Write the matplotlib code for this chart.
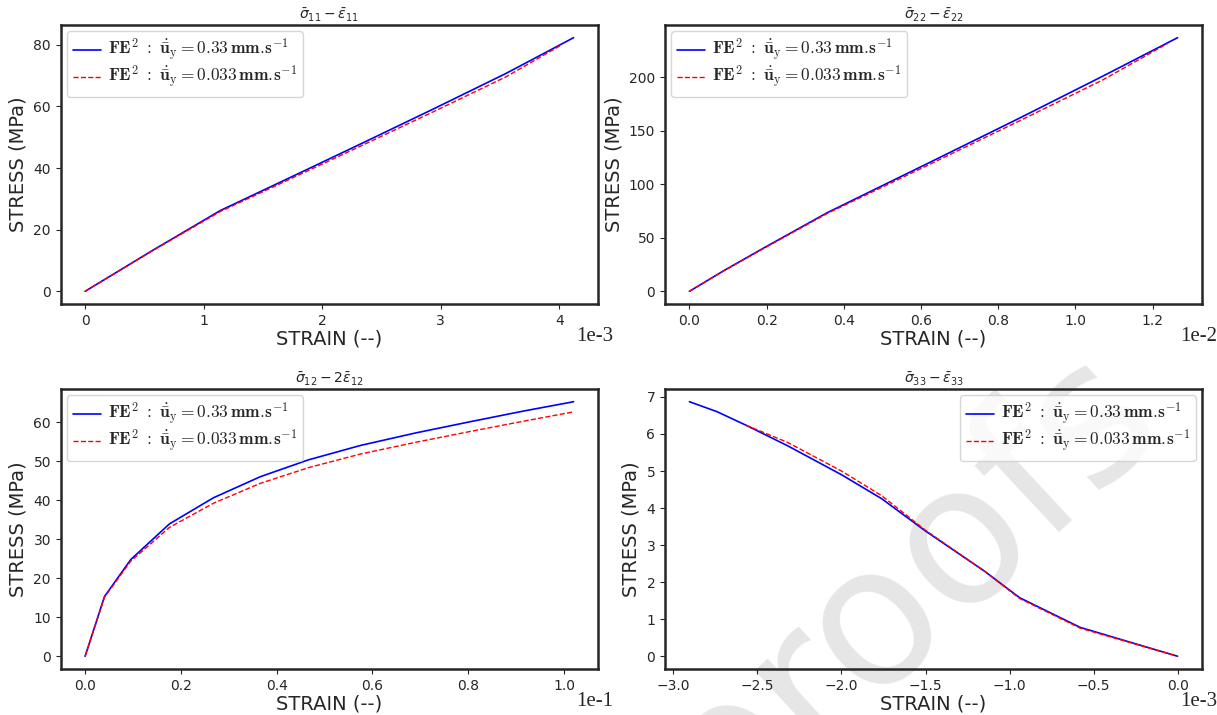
import numpy as np
import matplotlib
matplotlib.use("Agg")
import matplotlib.pyplot as plt
import seaborn as sns
from matplotlib.ticker import ScalarFormatter
from matplotlib.font_manager import FontProperties
from matplotlib.transforms import ScaledTranslation

sns.set_style("ticks")
plt.rcParams['font.family'] = ['DejaVu Sans']

# ---------------- data ----------------
# sigma11 - eps11 (strain in 1e-3)
s11_x_fast = [0.0, 0.57, 1.14, 1.75, 2.35, 2.95, 3.55, 4.12]
s11_y_fast = [0.0, 13.3, 26.2, 37.3, 48.3, 59.4, 70.7, 82.3]
s11_x_slow = [0.0, 0.57, 1.14, 1.75, 2.35, 2.95, 3.55, 4.02]
s11_y_slow = [0.0, 13.2, 25.9, 36.8, 47.6, 58.5, 69.6, 80.0]

# sigma22 - eps22 (strain in 1e-2)
s22_x_fast = [0.0, 0.09, 0.19, 0.357, 0.6, 0.85, 1.07, 1.265]
s22_y_fast = [0.0, 19.5, 40.0, 73.5, 116.5, 161.0, 201.0, 237.2]
s22_x_slow = [0.0, 0.09, 0.19, 0.357, 0.6, 0.85, 1.07, 1.24]
s22_y_slow = [0.0, 19.3, 39.6, 72.8, 114.8, 158.5, 197.5, 232.0]

# sigma12 - 2eps12 (strain in 1e-1)
s12_x = [0.0, 0.0404, 0.0955, 0.176, 0.268, 0.366, 0.466, 0.575, 0.69, 0.805, 0.915, 1.02]
s12_y_fast = [0.0, 15.3, 24.8, 33.9, 40.6, 46.0, 50.3, 54.0, 57.2, 60.1, 62.8, 65.2]
s12_y_slow = [0.0, 15.1, 24.4, 33.0, 39.2, 44.3, 48.3, 51.8, 54.8, 57.6, 60.2, 62.6]

# sigma33 - eps33 (strain in 1e-3)
s33_x_fast = [-2.905, -2.74, -2.57, -2.32, -2.0, -1.76, -1.5, -1.15, -0.94, -0.58, 0.0]
s33_y_fast = [6.87, 6.60, 6.24, 5.68, 4.90, 4.25, 3.38, 2.30, 1.58, 0.78, 0.0]
s33_x_slow = [-2.57, -2.32, -2.0, -1.76, -1.5, -1.15, -0.94, -0.58, 0.0]
s33_y_slow = [6.24, 5.77, 5.00, 4.33, 3.40, 2.30, 1.56, 0.76, 0.0]

scales = [1e-3, 1e-2, 1e-1, 1e-3]
titles = [r'$\bar{\sigma}_{11} - \bar{\varepsilon}_{11}$',
          r'$\bar{\sigma}_{22} - \bar{\varepsilon}_{22}$',
          r'$\bar{\sigma}_{12} - 2\bar{\varepsilon}_{12}$',
          r'$\bar{\sigma}_{33} - \bar{\varepsilon}_{33}$']
label_fast = r'$\mathbf{FE}^{2}\ :\ \dot{\bar{\mathbf{u}}}_{\mathrm{y}} = \mathbf{0.33}\,\mathbf{mm.\!s}^{-1}$'
label_slow = r'$\mathbf{FE}^{2}\ :\ \dot{\bar{\mathbf{u}}}_{\mathrm{y}} = \mathbf{0.033}\,\mathbf{mm.\!s}^{-1}$'

series = [
    (s11_x_fast, s11_y_fast, s11_x_slow, s11_y_slow),
    (s22_x_fast, s22_y_fast, s22_x_slow, s22_y_slow),
    (s12_x, s12_y_fast, s12_x, s12_y_slow),
    (s33_x_fast, s33_y_fast, s33_x_slow, s33_y_slow),
]
legend_locs = ['upper left', 'upper left', 'upper left', 'upper right']


class HyphenSciFormatter(ScalarFormatter):
    def get_offset(self):
        return super().get_offset().replace('\u2212', '-')


W, H = 1217, 715
fig = plt.figure(figsize=(W / 100, H / 100), dpi=100)

# watermark
fig.text(905 / W, 1 - 585 / H, 'proofs', fontsize=140, color='#e6e6e6',
         rotation=43, ha='center', va='center', rotation_mode='anchor', zorder=-1)

boxes = [(60.7, 25, 598, 304), (665, 25, 1202, 304),
         (60.7, 389, 598, 669), (665, 389, 1202, 669)]

leg_prop = FontProperties(size=12.5, math_fontfamily='cm')

for i, (x0, y0, x1, y1) in enumerate(boxes):
    ax = fig.add_axes([x0 / W, 1 - y1 / H, (x1 - x0) / W, (y1 - y0) / H])
    ax.set_facecolor('none')
    xf, yf, xs, ys = series[i]
    sc = scales[i]
    ax.plot(np.array(xf) * sc, yf, color='blue', lw=1.2, label=label_fast)
    ax.plot(np.array(xs) * sc, ys, color='red', lw=1.0, ls='--', label=label_slow)
    fmt = HyphenSciFormatter(useMathText=False)
    fmt.set_powerlimits((0, 0))
    ax.xaxis.set_major_formatter(fmt)
    ot = ax.xaxis.get_offset_text()
    ot.set_fontfamily('Liberation Serif')
    ot.set_fontsize(15)
    ot.set_transform(ot.get_transform() + ScaledTranslation(0.15, 0.05, fig.dpi_scale_trans))
    ax.set_title(titles[i], fontsize=10, pad=4)
    ax.set_xlabel('STRAIN (--)', fontsize=14, labelpad=1)
    ax.set_ylabel('STRESS (MPa)', fontsize=14)
    ax.tick_params(labelsize=10)
    for sp in ax.spines.values():
        sp.set_linewidth(1.8)
    ax.legend(loc=legend_locs[i], prop=leg_prop, handlelength=1.6,
              handletextpad=0.4, labelspacing=0.0, borderpad=0.35,
              borderaxespad=0.35)

fig.savefig('out.png', dpi=100)
